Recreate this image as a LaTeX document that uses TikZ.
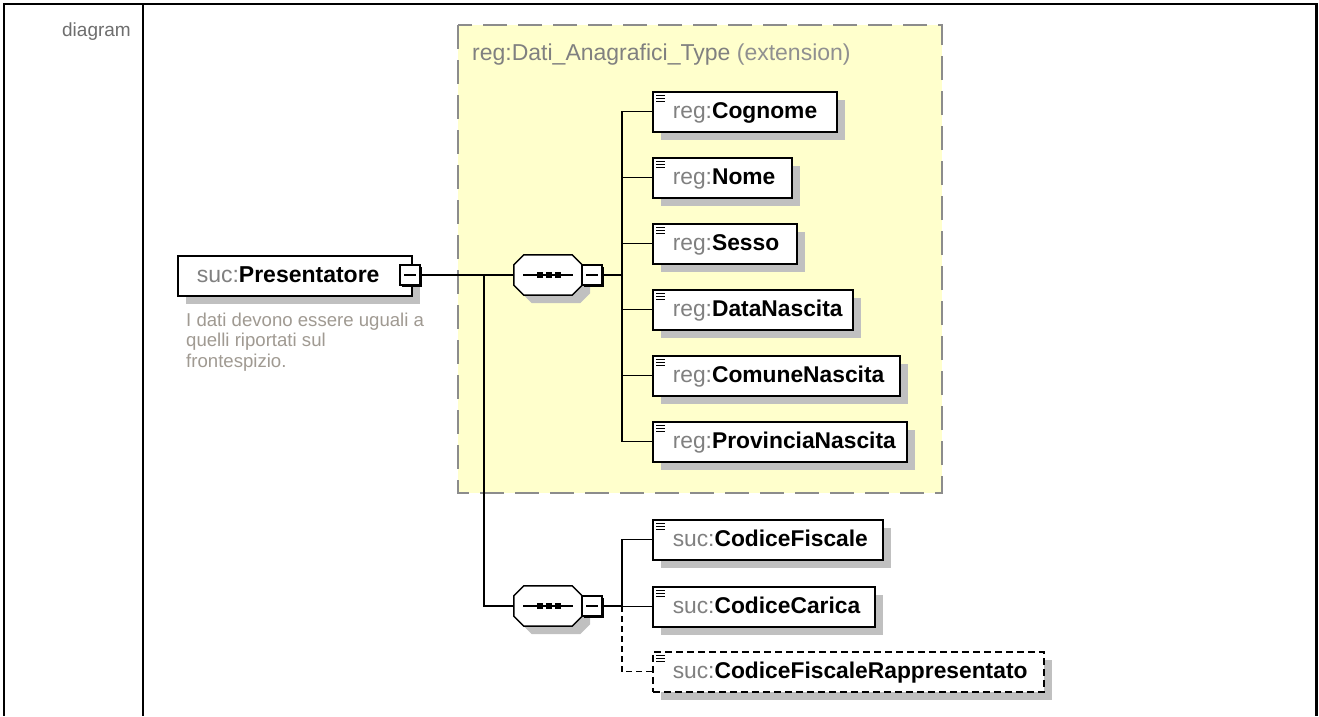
\documentclass[tikz,border=0pt]{standalone}
\usepackage{fontspec}
\setmainfont{Liberation Sans}
\usetikzlibrary{shadows}
\definecolor{ybg}{HTML}{FFFFCC}
\definecolor{ybd}{HTML}{8C8C8C}
\definecolor{shd}{HTML}{C0C0C0}
\definecolor{pre}{HTML}{808080}
\definecolor{ext}{HTML}{909090}
\definecolor{annc}{HTML}{A09A92}
\definecolor{lbl}{HTML}{6E6E6E}
\newcommand{\pfx}[1]{{\color{pre}#1}}
\newcommand{\nmb}[1]{\textbf{#1}}
% octagon (sequence compositor) drawn round an invisible named node
\newcommand{\octpath}[1]{([xshift=10pt]#1.north west) -- ([xshift=-10pt]#1.north east) -- ([yshift=-10pt]#1.north east) -- ([yshift=10pt]#1.south east) -- ([xshift=-10pt]#1.south east) -- ([xshift=10pt]#1.south west) -- ([yshift=10pt]#1.south west) -- ([yshift=-10pt]#1.north west) -- cycle}
\newcommand{\octo}[1]{%
  \begin{scope}[transform canvas={xshift=8pt,yshift=-8pt}]
    \fill[shd] \octpath{#1};
  \end{scope}
  \draw[line width=1.5pt, fill=white] \octpath{#1};
  \draw[line width=1.4pt] ([xshift=-25pt]#1.center) -- ([xshift=25pt]#1.center);
  \foreach \dx in {-8,1,10}{\fill ([xshift=\dx pt,xshift=-2.8pt,yshift=2.8pt]#1.center) rectangle ++(5.6pt,-5.6pt);}%
}
\begin{document}
\begin{tikzpicture}[x=1pt,y=-1pt,
  conn/.style={line width=1.4pt, draw=black},
  dashconn/.style={line width=1.4pt, draw=black, dash pattern=on 6pt off 4pt},
  elem/.style={draw=black, line width=1.5pt, fill=white, inner xsep=20pt, inner ysep=11pt,
    text height=16pt, text depth=2pt, text width=#1, align=left, anchor=north west,
    font=\fontsize{22.8}{26}\selectfont,
    drop shadow={opacity=1, fill=shd, shadow xshift=8pt, shadow yshift=-8pt},
    path picture={\foreach \dy in {4,7,10}{\draw[solid,line width=1.4pt] ([xshift=3.5pt,yshift=-\dy pt]path picture bounding box.north west) -- ++(8.5pt,0pt);}}},
  topelem/.style={draw=black, line width=1.5pt, fill=white, inner xsep=19pt, inner ysep=11pt,
    text height=16pt, text depth=2pt, text width=#1, align=left, anchor=north west,
    font=\fontsize{23}{26}\selectfont,
    drop shadow={opacity=1, fill=shd, shadow xshift=8pt, shadow yshift=-8pt}},
  seqbox/.style={rectangle, draw=none, minimum width=68pt, minimum height=40pt, inner sep=0pt},
  expbox/.style={draw=black, line width=1.2pt, fill=white, minimum size=20pt, inner sep=0pt,
    drop shadow={opacity=1, fill=black, shadow xshift=2pt, shadow yshift=-2pt},
    path picture={\draw[line width=1.3pt] ([xshift=4pt]path picture bounding box.west) -- ([xshift=-4pt]path picture bounding box.east);}}
]
\useasboundingbox (0,0) rectangle (1319,716);
\fill[white] (0,0) rectangle (1319,716);

% table frame
\draw[line width=2.6pt] (3,4) -- (1318,4);
\draw[line width=2.4pt] (4,3) -- (4,716);
\draw[line width=2.4pt] (143,4) -- (143,716);
\draw[line width=2.6pt] (1316.5,3) -- (1316.5,716);
\node[anchor=base east, text=lbl, font=\fontsize{19}{22}\selectfont, inner sep=0pt] (lab) at (131,36) {diagram};

% extension group
\path[fill=ybg, draw=ybd, line width=2pt, dash pattern=on 24pt off 11pt] (458,25) rectangle (942,493);
\node[anchor=base west, inner sep=0pt, font=\fontsize{23}{26}\selectfont] (ttl) at (472,60)
  {\color{pre}reg:Dati\_Anagrafici\_Type {\color{ext}(extension)}};

% root element
\node[topelem=196pt] (pres) at (177,255) {\mbox{\pfx{suc:}\nmb{Presentatore}}};
\node[expbox] (expP) at (410,275) {};
\node[anchor=north west, inner sep=0pt, align=left, text=annc, font=\fontsize{18.6}{20.5}\selectfont] (ann) at (186,312.5)
  {I dati devono essere uguali a\\quelli riportati sul\\frontespizio.};

% sequences
\node[seqbox] (seqA) at (548,275) {};
\octo{seqA}
\node[expbox] (expA) at (592,275) {};
\node[seqbox] (seqB) at (548,606) {};
\octo{seqB}
\node[expbox] (expB) at (592,606) {};

% children of group
\node[elem=144pt] (cog) at (652,91)  {\mbox{\pfx{reg:}\nmb{Cognome}}};
\node[elem=99pt]  (nom) at (652,157) {\mbox{\pfx{reg:}\nmb{Nome}}};
\node[elem=104pt] (ses) at (652,223) {\mbox{\pfx{reg:}\nmb{Sesso}}};
\node[elem=160pt] (dat) at (652,289) {\mbox{\pfx{reg:}\nmb{DataNascita}}};
\node[elem=207pt] (com) at (652,355) {\mbox{\pfx{reg:}\nmb{ComuneNascita}}};
\node[elem=214pt] (pro) at (652,421) {\mbox{\pfx{reg:}\nmb{ProvinciaNascita}}};

\node[elem=190pt] (cf)  at (652,519) {\mbox{\pfx{suc:}\nmb{CodiceFiscale}}};
\node[elem=182pt] (cc)  at (652,586) {\mbox{\pfx{suc:}\nmb{CodiceCarica}}};
\node[elem=351pt, dash pattern=on 7pt off 4pt] (cfr) at (652,651) {\mbox{\pfx{suc:}\nmb{CodiceFiscaleRappresentato}}};

% connectors
\coordinate (brP) at (484,275);
\coordinate (spA) at (622,275);
\coordinate (spB) at (622,606);
\draw[conn] (expP.east) -- (seqA.west);
\draw[conn] (brP) |- (seqB.west);
\draw[conn] (expA.east) -- (spA);
\foreach \c in {cog,nom,ses,dat,com,pro}{\draw[conn] (spA) |- (\c.west);}
\draw[conn] (expB.east) -- (spB);
\draw[conn] (spB) |- (cf.west);
\draw[conn] (spB) |- (cc.west);
\draw[dashconn] (spB) |- (cfr.west);
\end{tikzpicture}
\end{document}
